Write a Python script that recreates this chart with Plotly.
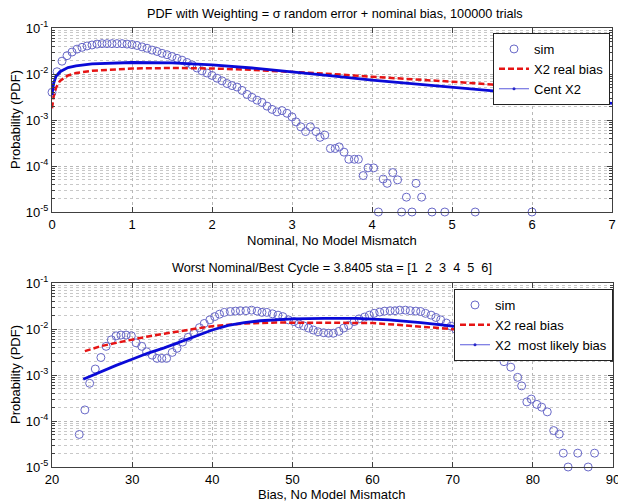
import plotly.graph_objects as go

# ---------------- data: top panel (Nominal) ----------------
top_sim_x = [0.0, 0.0625, 0.125, 0.1875, 0.25, 0.3125, 0.375, 0.4375, 0.5, 0.5625,
             0.625, 0.6875, 0.75, 0.8125, 0.875, 0.9375, 1.0, 1.0625, 1.125, 1.1875,
             1.25, 1.3125, 1.375, 1.4375, 1.5, 1.5625, 1.625, 1.6875, 1.75, 1.8125,
             1.875, 1.9375, 2.0, 2.0625, 2.125, 2.1875, 2.25, 2.3125, 2.375, 2.4375,
             2.5, 2.5625, 2.625, 2.6875, 2.75, 2.8125, 2.875, 2.9375, 3.0,
             3.05, 3.11, 3.17, 3.23, 3.30, 3.35, 3.41, 3.48, 3.54, 3.59, 3.65, 3.71,
             3.78, 3.83, 3.89, 3.95, 4.02, 4.08, 4.14, 4.19, 4.26, 4.32, 4.37, 4.43,
             4.50, 4.55, 4.62, 4.75, 4.91, 5.29, 6.0]
top_sim_y = [4.0e-3, 1.12e-2, 1.9e-2, 2.5e-2, 3.0e-2, 3.47e-2, 3.8e-2, 4.07e-2, 4.27e-2, 4.47e-2,
             4.57e-2, 4.57e-2, 4.57e-2, 4.57e-2, 4.57e-2, 4.47e-2, 4.37e-2, 4.17e-2, 3.89e-2, 3.63e-2,
             3.31e-2, 3.09e-2, 2.82e-2, 2.63e-2, 2.4e-2, 2.19e-2, 2.0e-2, 1.78e-2, 1.58e-2, 1.35e-2,
             1.17e-2, 1.05e-2, 9.3e-3, 8.1e-3, 7.1e-3, 6.2e-3, 5.6e-3, 5.2e-3, 4.4e-3, 3.6e-3,
             3.1e-3, 2.7e-3, 2.4e-3, 2.0e-3, 1.7e-3, 1.5e-3, 1.6e-3, 1.4e-3, 1.17e-3,
             9.1e-4, 7.1e-4, 5.6e-4, 7.1e-4, 5.6e-4, 4.2e-4, 4.7e-4, 2.4e-4, 2.4e-4, 2.6e-4, 2.0e-4, 1.4e-4,
             1.4e-4, 1.4e-4, 6.2e-5, 9.1e-5, 9.1e-5, 1.0e-5, 5.2e-5, 4.2e-5, 7.2e-5, 5.0e-5, 1.0e-5, 2.1e-5,
             1.0e-5, 4.2e-5, 2.1e-5, 1.0e-5, 1.0e-5, 1.0e-5, 1.0e-5]

top_curve_x = [0, 0.02, 0.05, 0.1, 0.2, 0.3, 0.5, 0.75, 1, 1.5, 2, 2.5, 3, 3.5, 4, 4.5, 5, 5.5, 6, 6.5, 7]
top_real_bias = [1.8e-3, 3.2e-3, 5.0e-3, 7.1e-3, 9.3e-3, 1.05e-2, 1.17e-2, 1.26e-2, 1.32e-2, 1.35e-2,
                 1.32e-2, 1.23e-2, 1.12e-2, 1.0e-2, 8.7e-3, 7.8e-3, 6.8e-3, 5.9e-3, 5.0e-3, 4.3e-3, 3.5e-3]
top_cent_x2 = [3.5e-3, 6.3e-3, 8.9e-3, 1.12e-2, 1.38e-2, 1.51e-2, 1.66e-2, 1.74e-2, 1.78e-2, 1.74e-2,
               1.58e-2, 1.35e-2, 1.12e-2, 9.1e-3, 7.4e-3, 6.2e-3, 5.1e-3, 4.4e-3, 3.6e-3, 2.9e-3, 2.3e-3]

# ---------------- data: bottom panel (Bias) ----------------
bot_sim_x = [23.4, 24.1, 24.7, 25.4, 26.1, 26.75, 27.4, 28.0, 28.6, 29.25, 29.9, 30.5, 31.2, 31.8,
             32.5, 33.1, 33.7, 34.3, 35.0, 35.6, 36.3, 37.0, 37.7, 38.4, 39.0, 39.7, 40.3, 40.9,
             41.5, 42.25, 42.9, 43.5, 44.2, 44.9, 45.6, 46.2, 46.8, 47.5, 48.2, 48.8, 49.5, 50.2,
             50.8, 51.4, 52.0, 52.6, 53.2, 53.9, 54.5, 55.1, 55.8, 56.4, 57.0, 57.7, 58.3, 59.0,
             59.6, 60.2, 60.9, 61.5, 62.2, 62.8, 63.4, 64.1, 64.7, 65.4, 66.0, 66.6, 67.3, 67.9,
             68.5, 69.2, 69.8, 70.4, 71.1, 71.7, 72.4, 73.0, 73.9, 74.75, 75.6, 76.4, 77.25, 78.1,
             78.6, 79.25, 79.8, 80.5, 81.1, 81.8, 82.6, 83.3, 83.8, 84.4, 85.6, 86.9, 87.7]
bot_sim_y = [5.1e-5, 1.74e-4, 6.6e-4, 1.35e-3, 2.4e-3, 4.2e-3, 5.8e-3, 7.1e-3, 7.4e-3, 7.4e-3, 7.1e-3,
             5.0e-3, 4.2e-3, 3.2e-3, 2.7e-3, 2.3e-3, 2.3e-3, 2.3e-3, 3.1e-3, 3.8e-3, 5.2e-3, 6.6e-3,
             8.1e-3, 1.07e-2, 1.32e-2, 1.58e-2, 1.86e-2, 2.1e-2, 2.3e-2, 2.4e-2, 2.45e-2, 2.5e-2,
             2.5e-2, 2.57e-2, 2.45e-2, 2.3e-2, 2.3e-2, 2.14e-2, 2.0e-2, 1.86e-2, 1.58e-2, 1.45e-2,
             1.29e-2, 1.17e-2, 1.05e-2, 9.5e-3, 8.7e-3, 8.3e-3, 8.1e-3, 8.1e-3, 8.9e-3, 1.05e-2,
             1.2e-2, 1.45e-2, 1.66e-2, 1.82e-2, 2.0e-2, 2.19e-2, 2.34e-2, 2.45e-2, 2.5e-2, 2.5e-2,
             2.57e-2, 2.57e-2, 2.5e-2, 2.45e-2, 2.4e-2, 2.19e-2, 2.0e-2, 1.78e-2, 1.58e-2, 1.35e-2,
             1.15e-2, 9.8e-3, 8.3e-3, 7.1e-3, 6.0e-3, 5.1e-3, 4.2e-3, 3.2e-3, 2.5e-3, 1.95e-3,
             1.48e-3, 8.9e-4, 5.8e-4, 2.6e-4, 3.0e-4, 2.3e-4, 2.0e-4, 1.58e-4, 6.2e-5, 5.2e-5,
             2.0e-5, 1.0e-5, 2.0e-5, 1.0e-5, 2.0e-5]

bot_red_x = [24.1, 26, 28, 30, 32, 34, 36, 38, 40, 44, 48, 52, 56, 60, 64, 68, 72, 76, 80, 84, 88]
bot_real_bias = [3.3e-3, 4.2e-3, 5.0e-3, 5.9e-3, 6.9e-3, 7.9e-3, 9.1e-3, 1.02e-2, 1.15e-2, 1.32e-2,
                 1.38e-2, 1.38e-2, 1.38e-2, 1.35e-2, 1.2e-2, 1.07e-2, 9.3e-3, 7.9e-3, 6.6e-3, 5.0e-3, 3.3e-3]
bot_blue_x = [23.9, 26, 28, 30, 32, 34, 36, 38, 40, 42, 44, 46, 50, 54, 58, 62, 66, 70, 74, 78, 82, 86, 88]
bot_most_likely = [8.1e-4, 1.17e-3, 1.62e-3, 2.2e-3, 3.0e-3, 3.9e-3, 5.2e-3, 7.1e-3, 9.5e-3, 1.2e-2,
                   1.38e-2, 1.51e-2, 1.66e-2, 1.7e-2, 1.7e-2, 1.58e-2, 1.38e-2, 1.15e-2, 9.3e-3, 7.6e-3,
                   5.0e-3, 3.2e-3, 2.4e-3]

y_tick_vals = [1e-5, 1e-4, 1e-3, 1e-2, 1e-1]
y_tick_text = ["10<sup>-5</sup>", "10<sup>-4</sup>", "10<sup>-3</sup>", "10<sup>-2</sup>", "10<sup>-1</sup>"]

title_top = "PDF with Weighting = σ random error + nominal bias, 100000 trials"
title_bot = "Worst Nominal/Best Cycle = 3.8405 sta = [1\u00a0\u00a02\u00a0\u00a03\u00a0\u00a04\u00a0\u00a05\u00a0\u00a06]"
xlabel_top = "Nominal, No Model Mismatch"
xlabel_bot = "Bias, No Model Mismatch"
ylabel = "Probability (PDF)"

# ---------------- styling ----------------
W, H = 618, 504
FONT = "Liberation Sans, Arial, sans-serif"
SIM_COL = "rgb(105,105,200)"
RED = "rgb(230,20,20)"
BLUE = "rgb(10,10,215)"
AXC = "#404040"
GRIDC = "#b8b8b8"

def px_x(p):
    return p / W

def px_y(p):
    return 1 - p / H

fig = go.Figure()

# top traces
fig.add_trace(go.Scatter(x=top_sim_x, y=top_sim_y, mode="markers", name="sim",
                         marker=dict(symbol="circle-open", size=8, color=SIM_COL, line=dict(width=1)),
                         cliponaxis=False, xaxis="x", yaxis="y", legend="legend"))
fig.add_trace(go.Scatter(x=top_curve_x, y=top_real_bias, mode="lines", name="X2 real bias",
                         line=dict(color=RED, width=2.5, dash="6px,3px"), xaxis="x", yaxis="y",
                         legend="legend"))
fig.add_trace(go.Scatter(x=top_curve_x, y=top_cent_x2, mode="lines", name="Cent X2", showlegend=False,
                         line=dict(color=BLUE, width=2.8), xaxis="x", yaxis="y"))
fig.add_trace(go.Scatter(x=[None], y=[None], mode="lines+markers", name="Cent X2",
                         line=dict(color="rgb(90,90,220)", width=1), marker=dict(size=3, color="rgb(40,40,200)"),
                         xaxis="x", yaxis="y", legend="legend"))

# bottom traces
fig.add_trace(go.Scatter(x=bot_sim_x, y=bot_sim_y, mode="markers", name="sim",
                         marker=dict(symbol="circle-open", size=8, color=SIM_COL, line=dict(width=1)),
                         cliponaxis=False, xaxis="x2", yaxis="y2", legend="legend2"))
fig.add_trace(go.Scatter(x=bot_red_x, y=bot_real_bias, mode="lines", name="X2 real bias",
                         line=dict(color=RED, width=2.5, dash="6px,3px"), xaxis="x2", yaxis="y2",
                         legend="legend2"))
fig.add_trace(go.Scatter(x=bot_blue_x, y=bot_most_likely, mode="lines", name="X2 most likely bias",
                         showlegend=False, line=dict(color=BLUE, width=2.8), xaxis="x2", yaxis="y2"))
fig.add_trace(go.Scatter(x=[None], y=[None], mode="lines+markers", name="X2\u00a0\u00a0most likely bias",
                         line=dict(color="rgb(90,90,220)", width=1), marker=dict(size=3, color="rgb(40,40,200)"),
                         xaxis="x2", yaxis="y2", legend="legend2"))

common_x = dict(showline=True, linecolor=AXC, linewidth=1, mirror="ticks", ticks="inside", ticklen=5,
                tickcolor=AXC, showgrid=True, gridcolor=GRIDC, griddash="dot", gridwidth=1,
                zeroline=False, automargin=False, ticklabeloverflow="allow",
                tickfont=dict(size=13, color="black", family=FONT))
common_y = dict(type="log", range=[-5, -1], tickvals=y_tick_vals, ticktext=y_tick_text,
                showline=True, linecolor=AXC, linewidth=1, mirror="ticks", ticks="inside", ticklen=5,
                tickcolor=AXC, showgrid=True, gridcolor=GRIDC, griddash="dot", gridwidth=1,
                zeroline=False, automargin=False, ticklabeloverflow="allow",
                tickfont=dict(size=13, color="black", family=FONT),
                minor=dict(dtick="D1", ticks="inside", ticklen=3, tickcolor=AXC, showgrid=True,
                           gridcolor="#c8c8c8", griddash="dot", gridwidth=1))

fig.update_layout(
    width=W, height=H, margin=dict(l=0, r=0, t=0, b=0, autoexpand=False),
    paper_bgcolor="white", plot_bgcolor="white",
    font=dict(family=FONT, size=12, color="black"),
    xaxis=dict(domain=[px_x(52), px_x(612)], range=[0, 7], dtick=1, anchor="y", **common_x),
    yaxis=dict(domain=[px_y(212), px_y(28)], anchor="x", **common_y),
    xaxis2=dict(domain=[px_x(52), px_x(613)], range=[20, 90], dtick=10, anchor="y2", **common_x),
    yaxis2=dict(domain=[px_y(467), px_y(283)], anchor="x2", **common_y),
    legend=dict(x=px_x(610), y=px_y(33), xanchor="right", yanchor="top", bgcolor="white",
                bordercolor="#222", borderwidth=1, font=dict(size=13, family=FONT),
                tracegroupgap=0, itemwidth=30),
    legend2=dict(x=px_x(613), y=px_y(289), xanchor="right", yanchor="top", bgcolor="white",
                 bordercolor="#222", borderwidth=1, font=dict(size=13, family=FONT),
                 tracegroupgap=0, itemwidth=30),
    showlegend=True,
    annotations=[
        dict(text=title_top, x=px_x(335), y=px_y(14), xref="paper", yref="paper", showarrow=False,
             font=dict(size=12.7, family=FONT), xanchor="center", yanchor="middle"),
        dict(text=title_bot, x=px_x(332), y=px_y(268), xref="paper", yref="paper", showarrow=False,
             font=dict(size=12.7, family=FONT), xanchor="center", yanchor="middle"),
        dict(text=xlabel_top, x=px_x(332), y=px_y(240), xref="paper", yref="paper", showarrow=False,
             font=dict(size=13, family=FONT), xanchor="center", yanchor="middle"),
        dict(text=xlabel_bot, x=px_x(332), y=px_y(494), xref="paper", yref="paper", showarrow=False,
             font=dict(size=13, family=FONT), xanchor="center", yanchor="middle"),
        dict(text=ylabel, x=px_x(15), y=px_y(120), xref="paper", yref="paper", showarrow=False,
             textangle=-90, font=dict(size=13, family=FONT), xanchor="center", yanchor="middle"),
        dict(text=ylabel, x=px_x(15), y=px_y(375), xref="paper", yref="paper", showarrow=False,
             textangle=-90, font=dict(size=13, family=FONT), xanchor="center", yanchor="middle"),
    ],
)

fig.write_html("out.html", config={"displayModeBar": False},
               post_script="document.body.style.margin='0';document.body.style.overflow='hidden';")
